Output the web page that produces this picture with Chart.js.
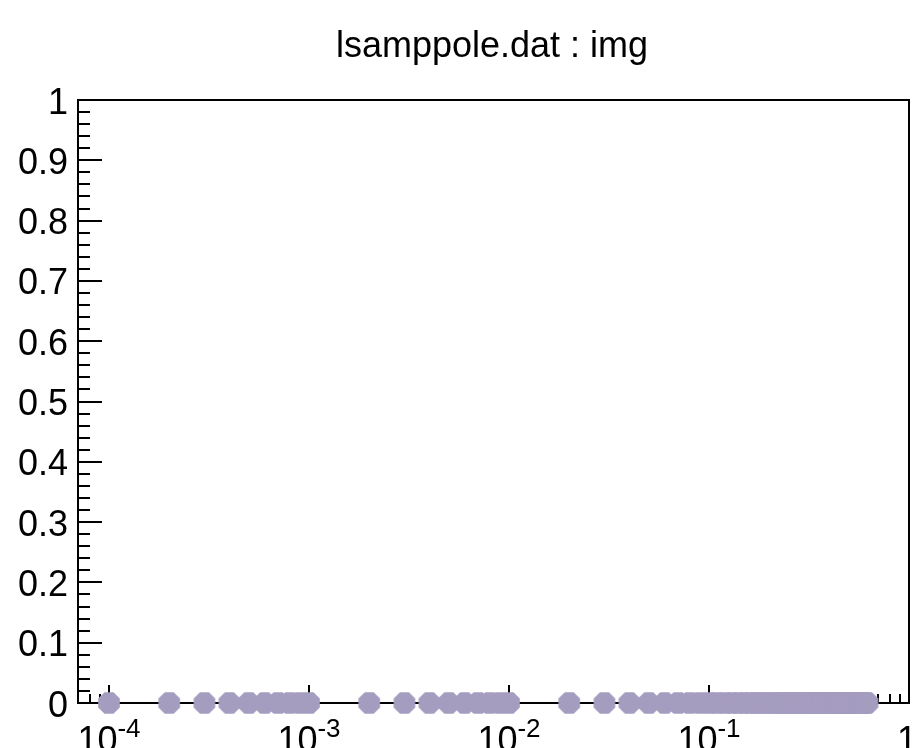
<!DOCTYPE html>
<html>
<head>
<meta charset="utf-8">
<script src="https://cdn.jsdelivr.net/npm/chart.js@4.4.0/dist/chart.umd.min.js"></script>
<style>
  html, body { margin: 0; padding: 0; background: #ffffff; }
  #plot { display: block; }
</style>
</head>
<body>
<canvas id="plot" width="922" height="748"></canvas>
<script>
// graph points (x on log scale, all y are zero)
var xDecade4 = [0.0001, 0.0002, 0.0003, 0.0004, 0.0005, 0.0006, 0.0007, 0.0008, 0.0009];
var xDecade3 = [0.001, 0.002, 0.003, 0.004, 0.005, 0.006, 0.007, 0.008, 0.009];
var xDecade2 = [0.01, 0.02, 0.03, 0.04, 0.05, 0.06, 0.07, 0.08, 0.09];
var xDecade1 = [0.10, 0.11, 0.12, 0.13, 0.14, 0.15, 0.16, 0.17, 0.18, 0.19,
                0.20, 0.21, 0.22, 0.23, 0.24, 0.25, 0.26, 0.27, 0.28, 0.29,
                0.30, 0.31, 0.32, 0.33, 0.34, 0.35, 0.36, 0.37, 0.38, 0.39,
                0.40, 0.41, 0.42, 0.43, 0.44, 0.45, 0.46, 0.47, 0.48, 0.49,
                0.50, 0.51, 0.52, 0.53, 0.54, 0.55, 0.56, 0.57, 0.58, 0.59,
                0.60, 0.61, 0.62, 0.63, 0.64, 0.65, 0.66, 0.67, 0.68, 0.69, 0.70];
var xValues = xDecade4.concat(xDecade3, xDecade2, xDecade1);
var yValues = [0, 0, 0, 0, 0, 0, 0, 0, 0,
               0, 0, 0, 0, 0, 0, 0, 0, 0,
               0, 0, 0, 0, 0, 0, 0, 0, 0,
               0, 0, 0, 0, 0, 0, 0, 0, 0, 0, 0, 0, 0, 0, 0, 0, 0, 0, 0, 0, 0, 0, 0, 0, 0, 0,
               0, 0, 0, 0, 0, 0, 0, 0, 0, 0, 0, 0, 0, 0, 0, 0, 0, 0, 0, 0, 0, 0, 0, 0, 0, 0, 0];

// axis ticks and labels
var yTickValues = [0, 0.1, 0.2, 0.3, 0.4, 0.5, 0.6, 0.7, 0.8, 0.9, 1];
var yTickLabels = ['0', '0.1', '0.2', '0.3', '0.4', '0.5', '0.6', '0.7', '0.8', '0.9', '1'];
var xTickValues = [0.0001, 0.001, 0.01, 0.1, 1];
var xTickBases = ['10', '10', '10', '10', '1'];
var xTickExponents = ['-4', '-3', '-2', '-1', ''];

var titleText = 'lsamppole.dat : img';
var xMin = 0.000072, xMax = 1;
var yMin = 0, yMax = 1;
var markerColor = 'rgb(165,157,192)';

var points = xValues.map(function (x, i) { return { x: x, y: yValues[i] }; });

// ROOT style full circle marker (drawn as an octagon)
function makeMarker(r, color) {
    var size = Math.ceil(r * 2) + 2;
    var c = document.createElement('canvas');
    c.width = size;
    c.height = size;
    var g = c.getContext('2d');
    g.fillStyle = color;
    g.beginPath();
    for (var i = 0; i < 8; i++) {
        var a = Math.PI / 8 + i * Math.PI / 4;
        var px = size / 2 + r * Math.cos(a);
        var py = size / 2 + r * Math.sin(a);
        if (i === 0) g.moveTo(px, py); else g.lineTo(px, py);
    }
    g.closePath();
    g.fill();
    return c;
}

var rootFrame = {
    id: 'rootFrame',
    beforeDatasetsDraw: function (chart) {
        var ctx = chart.ctx;
        var xs = chart.scales.x, ys = chart.scales.y;
        ctx.save();
        ctx.strokeStyle = '#000000';
        ctx.lineWidth = 2;
        ctx.strokeRect(xs.left, ys.top, xs.right - xs.left, ys.bottom - ys.top);

        ctx.beginPath();
        // y ticks: major every 0.1, minor every 0.02
        for (var k = 0; k <= 50; k++) {
            var v = k / 50;
            var py = Math.round(ys.getPixelForValue(v));
            var len = (k % 5 === 0) ? 24 : 12;
            ctx.moveTo(xs.left, py);
            ctx.lineTo(xs.left + len, py);
        }
        // x ticks on the log axis
        for (var e = -5; e <= 0; e++) {
            for (var m = 1; m <= 9; m++) {
                var xv = m * Math.pow(10, e);
                if (xv < xMin || xv > xMax) continue;
                var px = Math.round(xs.getPixelForValue(xv));
                var l = (m === 1) ? 18 : 9;
                ctx.moveTo(px, ys.bottom);
                ctx.lineTo(px, ys.bottom - l);
            }
        }
        ctx.stroke();
        ctx.restore();
    },
    afterDraw: function (chart) {
        var ctx = chart.ctx;
        var xs = chart.scales.x, ys = chart.scales.y;
        ctx.save();
        ctx.fillStyle = '#000000';
        ctx.textBaseline = 'alphabetic';

        // title
        ctx.font = '36px "Liberation Sans", Arial, sans-serif';
        ctx.textAlign = 'center';
        ctx.fillText(titleText, 492, 57);

        // y labels
        ctx.textAlign = 'right';
        yTickValues.forEach(function (v, i) {
            ctx.fillText(yTickLabels[i], 68, ys.getPixelForValue(v) + 13.5);
        });

        // x labels with exponents
        ctx.textAlign = 'left';
        xTickValues.forEach(function (v, i) {
            var px = xs.getPixelForValue(v);
            ctx.font = '36px "Liberation Sans", Arial, sans-serif';
            var wb = ctx.measureText(xTickBases[i]).width;
            ctx.font = '26px "Liberation Sans", Arial, sans-serif';
            var we = xTickExponents[i] ? ctx.measureText(xTickExponents[i]).width : 0;
            var x0 = px - (wb + we) / 2;
            if (!xTickExponents[i]) x0 = px - wb / 2 - 2;
            ctx.font = '36px "Liberation Sans", Arial, sans-serif';
            ctx.fillText(xTickBases[i], x0, 752);
            if (xTickExponents[i]) {
                ctx.font = '26px "Liberation Sans", Arial, sans-serif';
                ctx.fillText(xTickExponents[i], x0 + wb, 737);
            }
        });
        ctx.restore();
    }
};

new Chart(document.getElementById('plot').getContext('2d'), {
    type: 'line',
    data: {
        datasets: [{
            label: 'img',
            data: points,
            borderColor: '#000000',
            borderWidth: 2,
            pointStyle: makeMarker(11.7, markerColor),
            pointRadius: 11,
            pointBackgroundColor: markerColor,
            pointBorderColor: markerColor,
            tension: 0,
            clip: false
        }]
    },
    options: {
        responsive: false,
        animation: false,
        devicePixelRatio: 1,
        layout: { padding: { left: 78, top: 100, right: 13, bottom: 45 } },
        plugins: {
            legend: { display: false },
            title: { display: false },
            tooltip: { enabled: false }
        },
        scales: {
            x: { type: 'logarithmic', min: xMin, max: xMax, display: false },
            y: { type: 'linear', min: yMin, max: yMax, display: false }
        }
    },
    plugins: [rootFrame]
});
</script>
</body>
</html>
